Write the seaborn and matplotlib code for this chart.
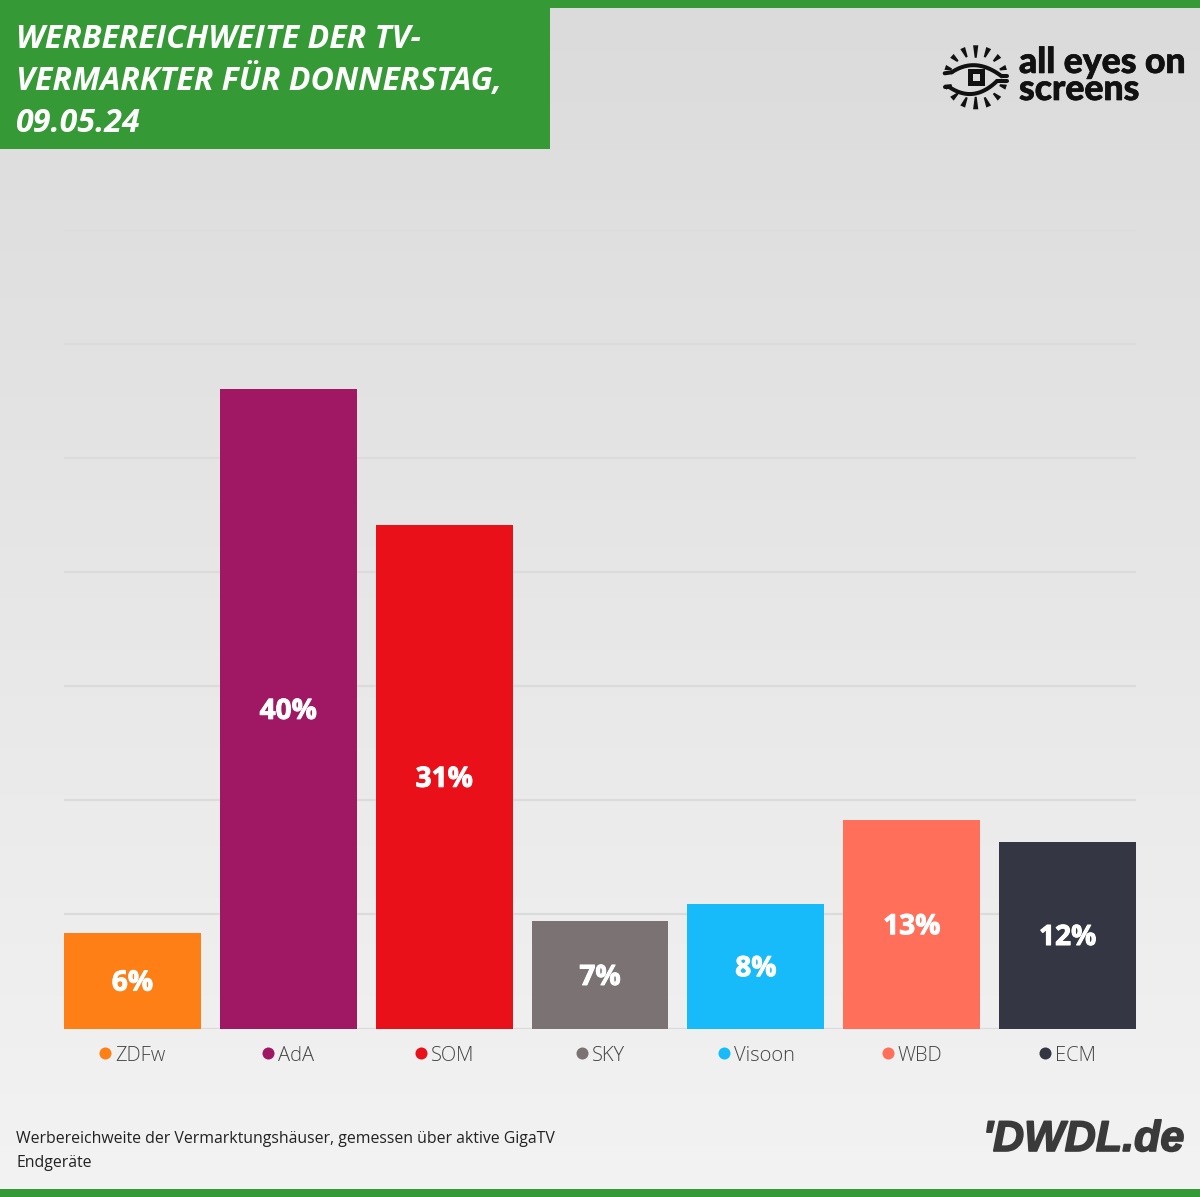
import numpy as np
import pandas as pd
import matplotlib.pyplot as plt
import matplotlib.patheffects as pe
import seaborn as sns

# Werte
vermarkter = ['ZDFw', 'AdA', 'SOM', 'SKY', 'Visoon', 'WBD', 'ECM']
reichweite = [6.0, 40.0, 31.5, 6.7, 7.8, 13.05, 11.7]
beschriftung = ['6%', '40%', '31%', '7%', '8%', '13%', '12%']
farben = ['#FF7F17', '#A01763', '#E9101A', '#7B7373', '#18BBF9', '#FF6F59', '#343743']
titel_zeilen = ['WERBEREICHWEITE DER TV-', 'VERMARKTER FÜR DONNERSTAG,', '09.05.24']
fussnote_zeilen = ['Werbereichweite der Vermarktungshäuser, gemessen über aktive GigaTV', 'Endgeräte']

GRUEN = '#359A35'
SCHWARZ = '#111111'
W, H = 1200, 1197

sns.set_theme(style='white')
plt.rcParams['font.family'] = ['Open Sans', 'DejaVu Sans']

df = pd.DataFrame({'vermarkter': vermarkter, 'reichweite': reichweite})

fig = plt.figure(figsize=(12, 11.97), dpi=100)

# Hintergrund mit Verlauf
bg = fig.add_axes([0, 0, 1, 1], zorder=0)
verlauf = np.linspace(0, 1, 256).reshape(-1, 1)
bg.imshow(verlauf, aspect='auto', cmap=plt.matplotlib.colors.LinearSegmentedColormap.from_list('bg', ['#DBDBDB', '#F3F3F3']),
          extent=[0, W, H, 0])
bg.set_xlim(0, W)
bg.set_ylim(H, 0)
bg.axis('off')

# Balken
ax = fig.add_axes([64 / W, 1 - 1028.5 / H, (1136 - 64) / W, (1028.5 - 229.5) / H], zorder=1)
ax.patch.set_alpha(0)
sns.barplot(data=df, x='vermarkter', y='reichweite', hue='vermarkter', palette=farben,
            width=0.878, saturation=1, legend=False, ax=ax, zorder=3, linewidth=0, edgecolor='none')
ax.set_xlim(-0.439, 6.439)
ax.set_ylim(0, 50)
ax.set_yticks(np.linspace(0, 50, 8))
ax.grid(axis='y', color='#DBDBDB', linewidth=1.6)
ax.set_axisbelow(True)
ax.tick_params(left=False, bottom=False, labelleft=False, labelbottom=False)
ax.set_xlabel('')
ax.set_ylabel('')
sns.despine(ax=ax, left=True, bottom=True)

for i, wert in enumerate(reichweite):
    ax.annotate(beschriftung[i], (i, wert / 2), xytext=(0, -1.8), textcoords='offset points',
                color='white', fontsize=20.2, fontweight='bold', ha='center', va='center', zorder=4,
                path_effects=[pe.withStroke(linewidth=0.7, foreground='white')])

# Overlay in Pixeln fuer Kopf, Fuss und Logos
ov = fig.add_axes([0, 0, 1, 1], zorder=2)
ov.set_xlim(0, W)
ov.set_ylim(H, 0)
ov.axis('off')

ov.fill_between([0, W], 0, 8, color=GRUEN, lw=0)
ov.fill_between([0, W], 1189, H, color=GRUEN, lw=0)
ov.fill_between([0, 550], 0, 149, color=GRUEN, lw=0)

for i, zeile in enumerate(titel_zeilen):
    ov.text(16, 39 + i * 42, zeile, color='white', fontsize=23.1, fontweight='bold',
            fontstyle='italic', va='center', ha='left')

for i, zeile in enumerate(fussnote_zeilen):
    ov.text(16, 1139 + i * 24, zeile, color='#222222', fontsize=11.4, va='center', ha='left')

# Kategorien unter den Balken: Punkt und Name
renderer = fig.canvas.get_renderer()
for i, name in enumerate(vermarkter):
    mitte = 64 + 68.5 + i * 155.9
    t = ov.text(mitte, 1056, name, color='#444444', fontsize=14.5, fontweight='light', va='center', ha='left')
    breite = t.get_window_extent(renderer).width
    start = mitte - (breite + 16) / 2
    t.set_x(start + 16)
    ov.scatter([start + 6], [1053], s=75, color=farben[i], linewidths=0)

# DWDL Logo
ov.text(1184, 1140, "'DWDL.de", color='#3A3A3A', fontsize=31, fontweight='bold', fontstyle='italic',
        family='Liberation Sans', ha='right', va='center',
        path_effects=[pe.withStroke(linewidth=1.2, foreground='#3A3A3A')])

# all eyes on screens Logo
ov.text(1019, 100, 'all eyes on\nscreens', color=SCHWARZ, fontsize=25.6, fontweight='black', family='Lato',
        ha='left', va='baseline', linespacing=0.78,
        path_effects=[pe.withStroke(linewidth=0.5, foreground=SCHWARZ)])

cx, cy = 975.7, 77.3


def bogen(p0, p1, p2):
    t = np.linspace(0, 1, 40)
    x = (1 - t) ** 2 * p0[0] + 2 * t * (1 - t) * p1[0] + t ** 2 * p2[0]
    y = (1 - t) ** 2 * p0[1] + 2 * t * (1 - t) * p1[1] + t ** 2 * p2[1]
    return cx + x, cy + y


# Augenlider
ov.plot(*bogen((-24, -5), (0, -21), (26, -1)), color=SCHWARZ, lw=2.9)
ov.plot(*bogen((-26, 10), (-2, 26), (21, 4)), color=SCHWARZ, lw=2.9)
ov.plot([cx - 31, cx - 24], [cy - 4, cy - 5], color=SCHWARZ, lw=2.9)
ov.plot([cx + 26, cx + 31], [cy - 1, cy - 1], color=SCHWARZ, lw=2.9)
ov.plot([cx - 31, cx - 26], [cy + 10, cy + 10], color=SCHWARZ, lw=2.9)
ov.plot([cx + 21, cx + 31], [cy + 4, cy + 4], color=SCHWARZ, lw=2.9)

# Pupille
ov.plot([cx - 6, cx + 6, cx + 6, cx - 6, cx - 6], [cy - 6, cy - 6, cy + 6, cy + 6, cy - 6],
        color=SCHWARZ, lw=3.6, solid_joinstyle='miter', solid_capstyle='projecting')

# Strahlen
for winkel in np.linspace(18, 162, 7):
    a = np.radians(winkel)
    innen = 19.5 + 6 * abs(np.cos(a))
    aussen = 32
    nx, ny = -np.sin(a), np.cos(a)
    for vorzeichen in (-1, 1):
        xs = [cx + innen * np.cos(a) + nx, cx + aussen * np.cos(a) + 2.6 * nx,
              cx + aussen * np.cos(a) - 2.6 * nx, cx + innen * np.cos(a) - nx]
        ys = [cy + vorzeichen * (innen * np.sin(a) + ny), cy + vorzeichen * (aussen * np.sin(a) + 2.6 * ny),
              cy + vorzeichen * (aussen * np.sin(a) - 2.6 * ny), cy + vorzeichen * (innen * np.sin(a) - ny)]
        ov.fill(xs, ys, color=SCHWARZ, lw=0)

fig.savefig('out.png', dpi=100)
